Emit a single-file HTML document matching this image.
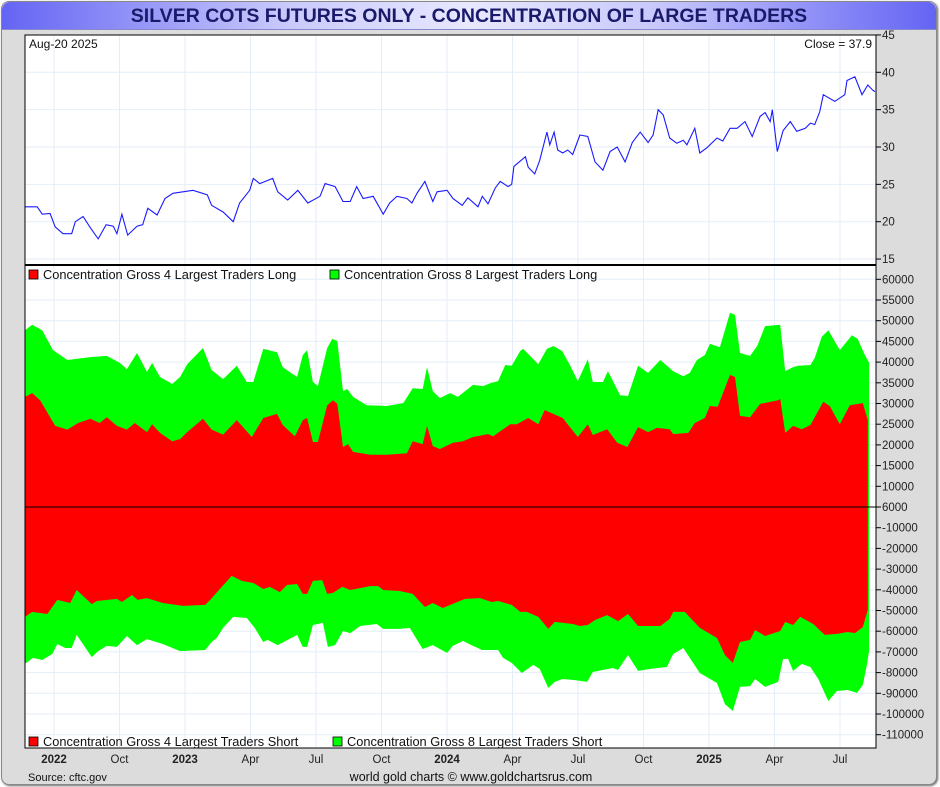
<!DOCTYPE html>
<html><head><meta charset="utf-8">
<style>
html,body{margin:0;padding:0;width:940px;height:787px;overflow:hidden;background:#fff;font-family:"Liberation Sans",Arial,sans-serif}
#frame{position:absolute;left:1px;top:1px;width:934px;height:782px;background:#dcdcdc;border:1px solid #888;border-radius:8px;box-shadow:1px 1px 2px #666}
#title{position:absolute;left:0;top:0;width:934px;height:27px;border-radius:8px 8px 0 0;background:linear-gradient(to right,#6464f4 0%,#c8c8fc 30%,#e8e8ff 50%,#c8c8fc 70%,#6464f4 100%);border-bottom:1px solid #8888cc;text-align:center;font-weight:bold;font-size:19.5px;line-height:28px;color:#1a1a6a}
svg{position:absolute;left:0;top:0}
</style></head><body>
<div id="frame">
<div id="title">SILVER COTS FUTURES ONLY - CONCENTRATION OF LARGE TRADERS</div>
</div>
<svg id="chart" width="940" height="787" font-family="Liberation Sans, Arial, sans-serif"></svg>
<script>
// Dates are days since 2022-05-20
const priceDays=[0,17,24,35,42,53,65,70,81,91,102,113,123,128,135,143,156,164,171,184,195,206,220,234,254,260,276,290,299,313,318,327,345,352,366,380,394,411,418,432,443,453,462,471,485,499,508,518,532,539,546,557,568,574,588,596,609,617,631,637,645,655,662,673,678,681,697,701,710,717,727,731,737,742,749,756,763,773,784,794,805,815,825,836,846,857,868,875,882,889,898,908,917,922,933,940,950,964,972,982,992,1003,1013,1024,1031,1038,1041,1048,1056,1066,1075,1087,1094,1100,1107,1112,1128,1142,1145,1156,1166,1174,1181,1184];
const priceVals=[22.0,22.0,21.0,21.1,19.3,18.4,18.4,20.0,20.7,19.2,17.7,19.6,19.4,18.4,21.0,18.2,19.4,19.6,21.8,20.9,23.1,23.8,24.0,24.2,23.6,22.2,21.3,20.0,22.5,24.2,25.8,25.1,25.8,24.0,22.9,24.2,22.5,23.4,25.1,24.7,22.7,22.7,24.7,23.1,23.4,21.0,22.5,23.4,23.1,22.5,23.8,25.4,22.7,24.0,24.2,23.1,22.2,23.2,22.0,23.4,22.4,24.5,25.4,24.7,25.0,27.4,28.7,27.3,26.4,28.2,32.0,30.3,32.0,29.6,29.2,29.6,29.0,31.6,31.4,28.0,26.9,29.4,30.0,28.0,30.6,32.0,30.6,31.6,35.0,34.3,31.2,30.5,30.9,30.3,32.5,29.2,29.9,31.2,30.8,32.5,32.5,33.4,31.4,34.1,34.6,33.4,35.0,29.4,32.2,33.4,32.1,32.5,33.2,33.0,34.7,37.0,36.1,37.0,38.9,39.4,37.0,38.3,37.6,37.4];

const long8Days=[0,10,24,39,59,91,114,132,142,156,170,177,188,205,216,226,248,260,276,295,309,318,332,351,359,379,387,393,401,408,421,428,435,443,449,457,476,504,527,540,554,560,568,578,592,603,624,638,648,659,669,678,690,694,715,727,736,748,759,770,784,791,805,812,829,840,854,868,885,903,917,926,936,947,954,968,982,989,996,1010,1020,1031,1052,1059,1070,1077,1094,1100,1110,1119,1135,1152,1160,1170,1176];
const long8Vals=[47.7,49.0,47.7,42.9,40.5,41.2,41.5,39.8,38.3,42.2,37.6,39.8,36.4,34.7,36.4,39.5,43.4,38.1,35.9,39.1,35.2,35.2,43.2,42.4,38.8,36.4,41.7,42.9,35.2,34.2,43.4,45.6,45.1,33.0,33.5,31.6,29.6,29.4,30.1,33.7,33.5,38.8,33.0,31.3,32.5,31.6,34.5,34.2,34.9,35.4,39.3,39.1,42.7,43.2,39.5,43.2,43.9,42.7,39.3,35.4,40.7,35.2,35.2,37.8,32.0,31.8,39.1,37.4,40.5,37.8,36.6,37.4,40.5,41.7,44.4,43.6,51.9,51.4,42.2,41.5,43.9,48.7,49.0,37.8,38.8,39.1,39.3,41.0,46.1,47.7,42.9,46.5,45.6,41.7,39.8];

const long4Days=[0,10,21,42,59,74,91,104,114,128,142,153,170,177,188,205,216,226,248,260,276,295,316,332,351,359,376,387,393,401,408,421,429,435,443,450,457,481,504,532,540,554,560,568,578,596,610,624,645,652,676,685,701,715,724,749,770,784,791,811,825,839,854,868,880,898,903,924,933,947,954,965,982,989,996,1010,1024,1049,1052,1059,1070,1082,1094,1112,1121,1135,1149,1167,1174];
const long4Vals=[31.6,32.5,30.8,24.6,23.7,25.3,26.3,25.3,26.7,24.6,23.7,25.3,23.1,25.0,22.9,20.9,21.4,23.1,26.3,23.7,22.5,26.0,21.9,26.5,27.5,24.8,22.1,26.0,26.5,20.7,20.7,29.6,30.8,29.9,19.5,20.2,18.3,17.6,17.6,18.0,20.9,20.2,24.6,19.7,19.0,20.5,20.9,21.9,22.6,22.1,25.0,25.0,26.5,25.0,28.4,26.5,21.9,25.0,22.4,23.8,20.5,19.5,24.3,23.1,24.1,23.8,22.6,22.9,25.3,26.5,29.4,29.2,36.9,36.4,27.0,26.7,29.9,30.8,31.1,22.9,24.6,23.8,24.8,30.4,29.4,25.0,29.6,30.1,26.0];

const short4Days=[0,10,31,45,63,72,93,100,128,135,149,157,170,192,220,251,258,274,288,302,318,332,341,355,365,379,387,393,401,414,421,429,442,453,481,492,499,522,540,557,568,582,602,613,634,650,659,678,690,699,715,729,738,763,773,784,794,811,826,840,854,885,898,903,919,940,964,975,986,996,1010,1017,1031,1052,1059,1070,1080,1098,1114,1131,1146,1156,1167,1174];
const short4Vals=[-53.1,-50.7,-51.7,-44.9,-46.4,-40.1,-46.9,-45.4,-44.4,-45.9,-42.5,-44.9,-44.0,-46.4,-47.8,-47.3,-44.9,-38.6,-33.3,-35.7,-36.7,-39.6,-38.6,-41.1,-37.7,-37.2,-42.0,-42.0,-35.7,-35.3,-42.0,-41.5,-38.6,-40.1,-38.2,-38.2,-40.1,-40.6,-42.0,-48.3,-46.4,-48.8,-45.9,-44.4,-44.0,-45.9,-45.4,-47.3,-50.7,-50.7,-53.1,-58.9,-55.5,-56.5,-57.5,-57.0,-54.6,-52.2,-55.1,-51.7,-57.5,-57.5,-54.1,-50.7,-50.7,-58.4,-63.3,-71.5,-75.3,-65.2,-64.2,-59.4,-62.3,-59.9,-55.5,-57.0,-53.1,-56.5,-61.8,-61.3,-60.4,-60.9,-58.0,-49.7];

const short8Days=[0,11,24,38,45,56,65,72,93,102,114,128,142,156,170,192,216,251,260,267,276,290,309,320,332,338,352,379,387,393,401,415,422,432,443,453,467,490,499,522,536,554,568,588,596,610,624,637,659,666,678,692,708,717,729,738,749,766,783,791,819,826,840,854,871,894,903,917,940,964,975,986,996,1010,1017,1031,1049,1056,1063,1070,1082,1094,1105,1119,1131,1146,1159,1167,1173,1176];
const short8Vals=[-75.8,-72.9,-73.9,-71.0,-66.2,-68.1,-68.1,-61.8,-72.5,-69.6,-67.1,-67.6,-62.3,-66.7,-63.8,-66.2,-69.6,-69.1,-65.2,-63.3,-58.4,-53.1,-53.6,-58.4,-65.2,-64.2,-66.7,-61.8,-67.6,-67.6,-57.0,-56.0,-67.6,-66.7,-59.9,-60.9,-57.5,-56.5,-58.9,-58.9,-58.4,-68.6,-66.7,-70.5,-67.1,-64.7,-67.1,-69.1,-69.1,-72.9,-75.3,-80.2,-76.3,-78.2,-87.4,-84.5,-83.1,-83.6,-84.5,-79.7,-77.8,-78.7,-71.5,-79.2,-78.2,-77.3,-71.0,-68.1,-80.2,-85.0,-95.2,-98.5,-86.9,-86.5,-83.1,-86.9,-84.5,-73.4,-73.4,-79.2,-75.8,-77.3,-83.1,-93.7,-88.9,-88.4,-89.8,-86.0,-75.8,-69.1];

const priceTicks=[45,40,35,30,25,20,15];
const posTicks=[60000,55000,50000,45000,40000,35000,30000,25000,20000,15000,10000,5000];
const negTicks=[-10000,-20000,-30000,-40000,-50000,-60000,-70000,-80000,-90000,-100000,-110000];
const timeTicks=[0.5,0.75,1,1.25,1.5,1.75,2,2.25,2.5,2.75,3,3.25,3.5]; // years since 2022
const timeLabels=["2022","Oct","2023","Apr","Jul","Oct","2024","Apr","Jul","Oct","2025","Apr","Jul"];

const L=25,R=876,T=35,MID=265,B=748,ZERO=507;
const xd=d=>L+d/1.393;
const xt=t=>185+(t-1)*262;
const yp=p=>72.3+(40-p)*7.47;
const yTop=v=>ZERO-(v-5000)/5000*20.7;
const yBot=v=>ZERO+(-v)/10000*20.7;
const svg=document.getElementById('chart');
const NS='http://www.w3.org/2000/svg';
function mk(tag,attrs,parent){const e=document.createElementNS(NS,tag);for(const k in attrs)e.setAttribute(k,attrs[k]);(parent||svg).appendChild(e);return e;}

const bg=mk('rect',{x:L,y:T,width:R-L,height:B-T,fill:'#fff'});



const grid=mk('g',{stroke:'#e4eef8','stroke-width':1});


timeTicks.forEach(t=>{mk('line',{x1:xt(t),x2:xt(t),y1:T,y2:B},grid);});
priceTicks.forEach(p=>{mk('line',{x1:L,x2:R,y1:yp(p),y2:yp(p)},grid);});
posTicks.forEach(v=>{mk('line',{x1:L,x2:R,y1:yTop(v),y2:yTop(v)},grid);});
negTicks.forEach(v=>{mk('line',{x1:L,x2:R,y1:yBot(v),y2:yBot(v)},grid);});

function area(days,vals,yf,fill,name){
  let d='M'+xd(days[0]).toFixed(1)+','+ZERO;
  days.forEach((dd,i)=>{d+='L'+xd(dd).toFixed(1)+','+yf(vals[i]*1000).toFixed(1);});
  d+='L'+xd(days[days.length-1]).toFixed(1)+','+ZERO+'Z';
  const p=mk('path',{d:d,fill:fill});
  
  
}
area(long8Days,long8Vals,yTop,'#00ff00','area-long-8');
area(long4Days,long4Vals,yTop,'#ff0000','area-long-4');
area(short8Days,short8Vals,yBot,'#00ff00','area-short-8');
area(short4Days,short4Vals,yBot,'#ff0000','area-short-4');

const zl=mk('line',{x1:L,x2:R,y1:ZERO,y2:ZERO,stroke:'#000','stroke-width':1});



let pd='';
priceDays.forEach((d,i)=>{pd+=(i?'L':'M')+xd(d).toFixed(1)+','+yp(priceVals[i]).toFixed(1);});
const pl=mk('path',{d:pd,fill:'none',stroke:'#1a1aff','stroke-width':1.1});



const fr=mk('rect',{x:L,y:T,width:R-L,height:B-T,fill:'none',stroke:'#000','stroke-width':1});


const dv=mk('line',{x1:L,x2:R,y1:MID,y2:MID,stroke:'#000','stroke-width':2});



const ax=mk('g',{'font-size':11.5,fill:'#222'});


function tick(y,label){mk('line',{x1:R,x2:R+5,y1:y,y2:y,stroke:'#000'},ax);const t=mk('text',{x:R+6,y:y+4},ax);t.textContent=label;}
priceTicks.forEach(p=>tick(yp(p),String(p)));
posTicks.forEach(v=>tick(yTop(v),v===5000?'6000':String(v)));
negTicks.forEach(v=>tick(yBot(v),String(v)));

const tx=mk('g',{'font-size':11.5,fill:'#222','text-anchor':'middle'});


timeTicks.forEach((t,i)=>{const e=mk('text',{x:xt(t),y:763,'font-weight':/^\d/.test(timeLabels[i])?'bold':'normal'},tx);e.textContent=timeLabels[i];});

function txt(x,y,s,str,name,extra){const e=mk('text',Object.assign({x:x,y:y,'font-size':s,fill:'#111'},extra||{}));e.textContent=str;return e;}
txt(29,48,12,'Aug-20  2025','date-label',{'xml:space':'preserve'});
txt(872,48,12,'Close = 37.9','close-label',{'text-anchor':'end'});
txt(28,781,11,'Source: cftc.gov','source-label');
txt(471,781,12.5,'world gold charts © www.goldchartsrus.com','credit-label',{'text-anchor':'middle'});

function legend(x,y,color,label,name){
  const g=mk('g',{});
  
  
  mk('rect',{x:x,y:y-9,width:9,height:9,fill:color,stroke:'#000','stroke-width':0.8},g);
  const t=mk('text',{x:x+14,y:y,'font-size':12.8,fill:'#111'},g);t.textContent=label;
}
legend(29,279,'#ff0000','Concentration Gross 4 Largest Traders Long','legend-long-4');
legend(330,279,'#00ff00','Concentration Gross 8 Largest Traders Long','legend-long-8');
legend(29,746,'#ff0000','Concentration Gross 4 Largest Traders Short','legend-short-4');
legend(333,746,'#00ff00','Concentration Gross 8 Largest Traders Short','legend-short-8');
</script>
</body></html>
